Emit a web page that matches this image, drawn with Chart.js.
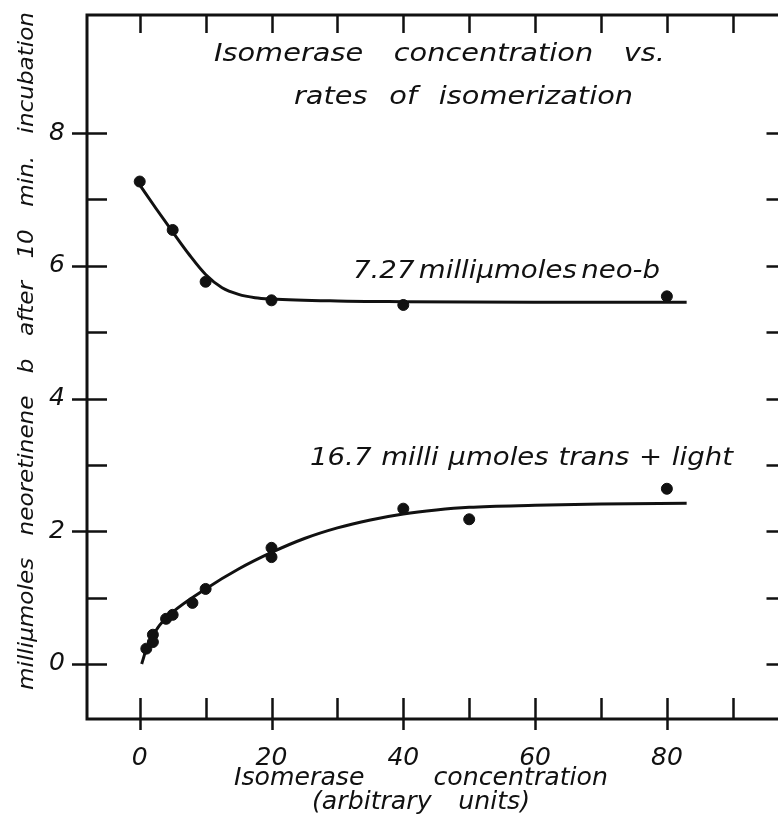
<!DOCTYPE html>
<html>
<head>
<meta charset="utf-8">
<script src="https://cdn.jsdelivr.net/npm/chart.js@4/dist/chart.umd.min.js"></script>
<style>
  html, body { margin: 0; padding: 0; background: #fff; overflow: hidden; }
  #wrap { width: 778px; height: 829px; overflow: hidden; }
  canvas { display: block; }
</style>
</head>
<body>
<div id="wrap"><canvas id="chart" width="792" height="829"></canvas></div>
<script>
const neoX = [0, 5, 10, 20, 40, 80];
const neoY = [7.27, 6.54, 5.76, 5.48, 5.41, 5.54];
const transX = [1, 2, 2, 4, 5, 8, 10, 20, 20, 40, 50, 80];
const transY = [0.23, 0.44, 0.33, 0.68, 0.74, 0.92, 1.13, 1.75, 1.61, 2.34, 2.18, 2.64];

// hand drawn curves
const neoCurveX = [0, 2.5, 5, 7.5, 10, 12.5, 15, 17.5, 20, 30, 40, 60, 83];
const neoCurveY = [7.22, 6.86, 6.51, 6.17, 5.87, 5.67, 5.57, 5.52, 5.5, 5.47, 5.46, 5.45, 5.45];
const transCurveX = [0.3, 1, 2, 3, 5, 10, 15, 20, 25, 30, 35, 40, 45, 50, 60, 70, 83];
const transCurveY = [0, 0.22, 0.42, 0.58, 0.78, 1.13, 1.43, 1.68, 1.89, 2.05, 2.17, 2.26, 2.32, 2.36, 2.39, 2.41, 2.42];

// axes
const xTicks = [0, 10, 20, 30, 40, 50, 60, 70, 80, 90];
const xLabels = [0, 20, 40, 60, 80];
const yTicks = [0, 1, 2, 3, 4, 5, 6, 7, 8];
const yLabels = [0, 2, 4, 6, 8];

const titleLines = ['Isomerase concentration vs.', 'rates of isomerization'];
const neoLabel = '7.27 milli\u03bcmoles neo-b';
const transLabel = '16.7 milli \u03bcmoles trans + light';
const xTitle = ['Isomerase concentration', '(arbitrary units)'];
const yTitle = 'milli\u03bcmoles neoretinene b after 10 min. incubation';

const ink = '#111';
const fontFamily = "'DejaVu Sans', sans-serif";

function pts(xs, ys) {
  return xs.map((x, i) => ({ x: x, y: ys[i] }));
}

// lay the words of a line out between x0 and x1, like the lettering guide did.
// sx widens the glyphs a little, the lettering is broader than any installed font
function spreadText(ctx, text, x0, x1, y, sx) {
  const words = text.split(' ');
  const widths = words.map(w => ctx.measureText(w).width * sx);
  const total = widths.reduce((a, b) => a + b, 0);
  const gap = words.length > 1 ? (x1 - x0 - total) / (words.length - 1) : 0;
  let x = x0;
  words.forEach((w, i) => {
    ctx.save();
    ctx.translate(x, y);
    ctx.scale(sx, 1);
    ctx.fillText(w, 0, 0);
    ctx.restore();
    x += widths[i] + gap;
  });
}

const frameAndText = {
  id: 'frameAndText',
  afterDatasetsDraw(chart) {
    const { ctx, chartArea: a, scales: { x, y } } = chart;
    ctx.save();
    ctx.strokeStyle = ink;
    ctx.fillStyle = ink;
    ctx.lineCap = 'butt';

    // frame
    ctx.lineWidth = 3;
    ctx.beginPath();
    ctx.moveTo(a.right, a.top);
    ctx.lineTo(a.left, a.top);
    ctx.lineTo(a.left, a.bottom);
    ctx.lineTo(a.right, a.bottom);
    ctx.stroke();

    // tick marks
    ctx.lineWidth = 2.5;
    ctx.beginPath();
    xTicks.forEach(v => {
      const px = Math.round(x.getPixelForValue(v)) + 0.5;
      const major = xLabels.includes(v);
      ctx.moveTo(px, a.bottom - 21);
      ctx.lineTo(px, a.bottom + (major ? 11 : 0));
      ctx.moveTo(px, a.top);
      ctx.lineTo(px, a.top + 18);
    });
    yTicks.forEach(v => {
      const py = Math.round(y.getPixelForValue(v)) + 0.5;
      const major = yLabels.includes(v);
      ctx.moveTo(a.left - (major ? 15 : 0), py);
      ctx.lineTo(a.left + 20, py);
      ctx.moveTo(a.right - 19, py);
      ctx.lineTo(a.right, py);
    });
    ctx.stroke();

    // lettering
    ctx.textBaseline = 'middle';
    ctx.textAlign = 'left';
    ctx.font = 'italic 24px ' + fontFamily;
    spreadText(ctx, titleLines[0], 214, 665, 55, 1.2);
    spreadText(ctx, titleLines[1], 294, 633, 98, 1.2);
    spreadText(ctx, neoLabel, 353, 660, 272, 1.15);
    spreadText(ctx, transLabel, 310, 733, 459, 1.15);
    spreadText(ctx, xTitle[0], 234, 608, 779, 1.05);
    spreadText(ctx, xTitle[1], 312, 530, 803, 1.05);

    ctx.font = 'italic 22px ' + fontFamily;
    ctx.translate(27, 0);
    ctx.rotate(-Math.PI / 2);
    spreadText(ctx, yTitle, -690, -12, 0, 1.05);
    ctx.restore();
  }
};

new Chart(document.getElementById('chart'), {
  type: 'scatter',
  data: {
    datasets: [
      {
        label: 'neo-b curve',
        type: 'line',
        data: pts(neoCurveX, neoCurveY),
        borderColor: ink,
        borderWidth: 3,
        pointRadius: 0,
        cubicInterpolationMode: 'monotone',
        fill: false
      },
      {
        label: 'trans + light curve',
        type: 'line',
        data: pts(transCurveX, transCurveY),
        borderColor: ink,
        borderWidth: 3,
        pointRadius: 0,
        cubicInterpolationMode: 'monotone',
        fill: false
      },
      {
        label: '7.27 milli\u03bcmoles neo-b',
        data: pts(neoX, neoY),
        backgroundColor: ink,
        borderColor: ink,
        pointRadius: 5.5,
        showLine: false
      },
      {
        label: '16.7 milli\u03bcmoles trans + light',
        data: pts(transX, transY),
        backgroundColor: ink,
        borderColor: ink,
        pointRadius: 5.5,
        showLine: false
      }
    ]
  },
  options: {
    responsive: false,
    animation: false,
    devicePixelRatio: 1,
    layout: { padding: { left: 0, right: 6, top: 15, bottom: 0 } },
    plugins: {
      legend: { display: false },
      tooltip: { enabled: false },
      title: { display: false }
    },
    scales: {
      x: {
        type: 'linear',
        min: -8,
        max: 98,
        afterBuildTicks: s => { s.ticks = xTicks.map(v => ({ value: v })); },
        afterFit: s => {
          s.height = 110;
          s.paddingLeft = 0;
          s.paddingRight = 0;
        },
        grid: { display: false },
        border: { display: false },
        ticks: {
          autoSkip: false,
          maxRotation: 0,
          padding: 16,
          color: ink,
          font: { family: fontFamily, size: 25, style: 'italic' },
          callback: v => (xLabels.includes(v) ? String(v) : '')
        }
      },
      y: {
        type: 'linear',
        min: -0.83,
        max: 9.78,
        afterBuildTicks: s => { s.ticks = yTicks.map(v => ({ value: v })); },
        afterFit: s => {
          s.width = 87;
          s.paddingTop = 0;
          s.paddingBottom = 0;
        },
        grid: { display: false },
        border: { display: false },
        ticks: {
          autoSkip: false,
          padding: 14,
          color: ink,
          font: { family: fontFamily, size: 25, style: 'italic' },
          callback: v => (yLabels.includes(v) ? String(v) : '')
        }
      }
    }
  },
  plugins: [frameAndText]
});
</script>
</body>
</html>
